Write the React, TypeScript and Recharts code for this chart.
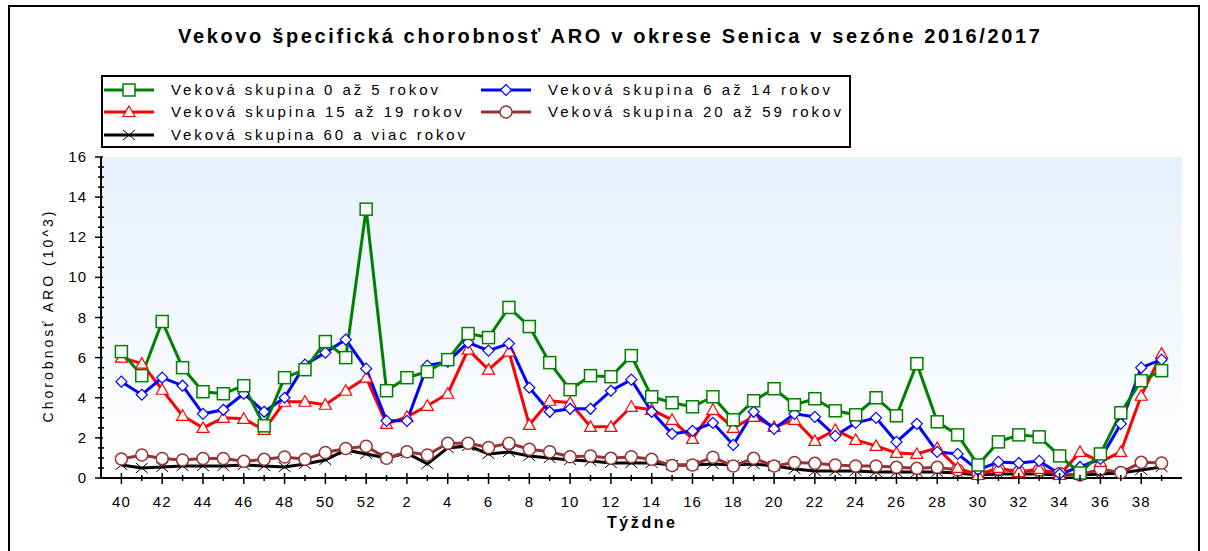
import React from 'react';
import { LineChart, Line, XAxis, YAxis, CartesianGrid } from 'recharts';

const weeks = ['40','41','42','43','44','45','46','47','48','49','50','51','52','1','2','3','4','5','6','7','8','9','10','11','12','13','14','15','16','17','18','19','20','21','22','23','24','25','26','27','28','29','30','31','32','33','34','35','36','37','38','39'];

const age0to5 = [6.3,5.1,7.8,5.5,4.3,4.2,4.6,2.6,5.0,5.4,6.8,6.0,13.4,4.35,5.0,5.3,5.9,7.2,7.0,8.5,7.55,5.75,4.4,5.1,5.05,6.1,4.05,3.75,3.55,4.05,2.9,3.85,4.45,3.65,3.95,3.35,3.15,4.0,3.1,5.7,2.8,2.15,0.65,1.8,2.15,2.05,1.1,0.25,1.2,3.25,4.85,5.35];
const age6to14 = [4.8,4.15,5.0,4.6,3.2,3.4,4.2,3.3,4.0,5.65,6.25,6.9,5.45,2.85,2.85,5.6,5.8,6.75,6.35,6.7,4.5,3.3,3.45,3.45,4.35,4.9,3.3,2.2,2.35,2.75,1.65,3.3,2.45,3.2,3.05,2.1,2.75,3.0,1.8,2.7,1.3,1.2,0.4,0.8,0.75,0.85,0.2,0.55,0.95,2.7,5.5,5.9];
const age15to19 = [6.0,5.7,4.4,3.1,2.5,3.0,2.95,2.4,3.8,3.8,3.65,4.35,5.0,2.7,3.05,3.6,4.2,6.4,5.4,6.3,2.65,3.85,3.75,2.55,2.55,3.55,3.4,2.9,1.95,3.4,2.5,3.05,2.55,2.9,1.85,2.4,1.9,1.6,1.25,1.2,1.5,0.5,0.15,0.5,0.3,0.45,0.15,1.3,0.8,1.3,4.1,6.2];
const age20to59 = [0.95,1.15,0.97,0.9,0.97,0.97,0.83,0.93,1.05,0.93,1.27,1.47,1.58,0.98,1.31,1.15,1.73,1.73,1.52,1.73,1.43,1.31,1.06,1.1,0.98,1.06,0.93,0.62,0.65,1.03,0.6,0.98,0.6,0.77,0.73,0.65,0.6,0.6,0.53,0.48,0.53,0.4,0.2,0.45,0.3,0.4,0.22,0.15,0.45,0.27,0.78,0.75];
const age60plus = [0.65,0.5,0.55,0.6,0.6,0.6,0.65,0.6,0.55,0.7,0.9,1.4,1.2,1.0,1.25,0.7,1.5,1.6,1.2,1.3,1.1,1.0,0.9,0.85,0.75,0.75,0.75,0.65,0.65,0.7,0.65,0.7,0.6,0.45,0.35,0.35,0.35,0.3,0.3,0.3,0.3,0.25,0.15,0.2,0.2,0.2,0.15,0.15,0.2,0.25,0.4,0.55];

const yAllTicks = Array.from({ length: 33 }, (_, i) => i * 0.5);

const titleText = 'Vekovo špecifická chorobnosť ARO v okrese Senica v sezóne 2016/2017';
const yTitle = 'Chorobnosť ARO (10^3)';
const xTitle = 'Týždne';

const legendNames = [
  'Veková skupina 0 až 5 rokov',
  'Veková skupina 6 až 14 rokov',
  'Veková skupina 15 až 19 rokov',
  'Veková skupina 20 až 59 rokov',
  'Veková skupina 60 a viac rokov',
];

const COLORS = {
  green: '#008000',
  blue: '#0000FF',
  red: '#FF0000',
  brown: '#993333',
  black: '#000000',
};

const FONT = '"Liberation Sans", Arial, sans-serif';

const data = weeks.map((w, i) => ({
  idx: i,
  week: w,
  a: age0to5[i],
  b: age6to14[i],
  c: age15to19[i],
  d: age20to59[i],
  e: age60plus[i],
}));

type ShapeProps = { cx: number; cy: number; color: string };

const SquareShape = ({ cx, cy, color }: ShapeProps) => (
  <rect x={cx - 6} y={cy - 6} width={12} height={12} fill="#fff" stroke={color} strokeWidth={1.5} />
);
const DiamondShape = ({ cx, cy, color }: ShapeProps) => (
  <polygon points={`${cx},${cy - 5.5} ${cx + 5.5},${cy} ${cx},${cy + 5.5} ${cx - 5.5},${cy}`} fill="#fff" stroke={color} strokeWidth={1.2} />
);
const TriangleShape = ({ cx, cy, color }: ShapeProps) => (
  <polygon points={`${cx},${cy - 6} ${cx + 6},${cy + 4.5} ${cx - 6},${cy + 4.5}`} fill="#fff" stroke={color} strokeWidth={1.2} />
);
const CircleShape = ({ cx, cy, color }: ShapeProps) => (
  <circle cx={cx} cy={cy} r={6} fill="#fff" stroke={color} strokeWidth={1.5} />
);
const CrossShape = ({ cx, cy, color }: ShapeProps) => (
  <g stroke={color} strokeWidth={1}>
    <line x1={cx - 6} y1={cy - 5} x2={cx + 6} y2={cy + 5} />
    <line x1={cx - 6} y1={cy + 5} x2={cx + 6} y2={cy - 5} />
  </g>
);

const makeDot = (Shape: any, color: string) => (props: any) => {
  const { cx, cy, index } = props;
  if (cx == null || cy == null) return <g key={`n-${index}`} />;
  return <Shape key={`dot-${index}`} cx={cx} cy={cy} color={color} />;
};

const XTickBottom = (props: any) => {
  const { x, y, payload } = props;
  const w = weeks[payload.value];
  if (w === undefined) return <g />;
  const major = Number(w) % 2 === 0;
  return (
    <g>
      <line x1={x} x2={x} y1={y - (major ? 5 : 3)} y2={y + (major ? 6 : 3)} stroke="#000" strokeWidth={1.5} />
      {major && (
        <text x={x} y={y + 29} textAnchor="middle" fontFamily={FONT} fontSize={15} fill="#000" letterSpacing={1}>
          {w}
        </text>
      )}
    </g>
  );
};

const XTickTop = (props: any) => {
  const { x, y, payload } = props;
  const w = weeks[payload.value];
  if (w === undefined) return <g />;
  const major = Number(w) % 2 === 0;
  return <line x1={x} x2={x} y1={y} y2={y + (major ? 7 : 4)} stroke="#000" strokeWidth={1.5} />;
};

const YTickLeft = (props: any) => {
  const { x, y, payload } = props;
  const v = payload.value;
  const major = v % 2 === 0;
  return (
    <g>
      <line x1={x - (major ? 6 : 3)} x2={x + (major ? 2 : 3)} y1={y} y2={y} stroke="#000" strokeWidth={1.5} />
      {major && (
        <text x={x - 14} y={y + 5} textAnchor="end" fontFamily={FONT} fontSize={15} fill="#000" letterSpacing={1}>
          {v}
        </text>
      )}
    </g>
  );
};

const YTickRight = (props: any) => {
  const { x, y, payload } = props;
  const major = payload.value % 2 === 0;
  return <line x1={x} x2={x - (major ? 7 : 3)} y1={y} y2={y} stroke="#000" strokeWidth={1.5} />;
};

const legendShapes = [
  { Shape: SquareShape, color: COLORS.green },
  { Shape: DiamondShape, color: COLORS.blue },
  { Shape: TriangleShape, color: COLORS.red },
  { Shape: CircleShape, color: COLORS.brown },
  { Shape: CrossShape, color: COLORS.black },
];
const legendPos = [
  { x: 104, y: 90, tw: 267 },
  { x: 481, y: 90, tw: 282 },
  { x: 104, y: 112, tw: 291 },
  { x: 481, y: 112, tw: 293 },
  { x: 104, y: 135, tw: 294 },
];

const Overlay = () => (
  <svg width={1208} height={551} style={{ position: 'absolute', left: 0, top: 0, pointerEvents: 'none' }}>
    <rect x={9} y={6} width={1190} height={560} fill="none" stroke="#000" strokeWidth={2} />
    <text x={609} y={43} textAnchor="middle" fontFamily={FONT} fontSize={20} fontWeight="bold" fill="#000" textLength={862} lengthAdjust="spacing">
      {titleText}
    </text>
    <rect x={102} y={76} width={748} height={71} fill="#fff" stroke="#000" strokeWidth={2} />
    {legendNames.map((name, i) => {
      const { Shape, color } = legendShapes[i];
      const p = legendPos[i];
      return (
        <g key={name}>
          <line x1={p.x} x2={p.x + 50} y1={p.y} y2={p.y} stroke={color} strokeWidth={3} />
          <Shape cx={p.x + 25} cy={p.y} color={color} />
          <text x={p.x + 67} y={p.y + 5} fontFamily={FONT} fontSize={15} fill="#000" textLength={p.tw} lengthAdjust="spacing">
            {name}
          </text>
        </g>
      );
    })}
    <text
      x={0}
      y={0}
      transform="translate(53,317) rotate(-90)"
      textAnchor="middle"
      fontFamily={FONT}
      fontSize={14}
      fill="#000"
      textLength={211}
      lengthAdjust="spacing"
    >
      {yTitle}
    </text>
    <text x={641} y={528} textAnchor="middle" fontFamily={FONT} fontSize={16} fontWeight="bold" fill="#000" textLength={68} lengthAdjust="spacing">
      {xTitle}
    </text>
  </svg>
);

export default function App() {
  return (
    <div style={{ position: 'absolute', left: 0, top: 0, width: 1208, height: 551, background: '#fff' }}>
      <LineChart width={1208} height={551} data={data} margin={{ top: 157, right: 26, bottom: 33, left: 41 }}>
        <defs>
          <linearGradient id="plotBg" x1="0" y1="0" x2="0" y2="1">
            <stop offset="0%" stopColor="#E6F0FB" />
            <stop offset="100%" stopColor="#FFFFFF" />
          </linearGradient>
        </defs>
        <CartesianGrid horizontal={false} vertical={false} fill="url(#plotBg)" stroke="none" />
        <XAxis
          xAxisId="bottom"
          type="number"
          dataKey="idx"
          domain={[-1, 52]}
          ticks={weeks.map((_, i) => i)}
          interval={0}
          tickLine={false}
          tickSize={0}
          tickMargin={0}
          height={40}
          axisLine={{ stroke: '#000', strokeWidth: 2 }}
          tick={<XTickBottom />}
        />
        <XAxis
          xAxisId="top"
          orientation="top"
          type="number"
          dataKey="idx"
          domain={[-1, 52]}
          ticks={weeks.map((_, i) => i)}
          interval={0}
          tickLine={false}
          tickSize={0}
          tickMargin={0}
          height={0}
          axisLine={{ stroke: '#000', strokeWidth: 2 }}
          tick={<XTickTop />}
        />
        <YAxis
          yAxisId="left"
          type="number"
          domain={[0, 16]}
          ticks={yAllTicks}
          interval={0}
          tickLine={false}
          tickSize={0}
          tickMargin={0}
          width={60}
          axisLine={{ stroke: '#000', strokeWidth: 2 }}
          tick={<YTickLeft />}
        />
        <YAxis
          yAxisId="right"
          orientation="right"
          type="number"
          domain={[0, 16]}
          ticks={yAllTicks}
          interval={0}
          tickLine={false}
          tickSize={0}
          tickMargin={0}
          width={0}
          axisLine={{ stroke: '#000', strokeWidth: 2 }}
          tick={<YTickRight />}
        />
        <Line xAxisId="bottom" yAxisId="left" dataKey="e" stroke={COLORS.black} strokeWidth={3} dot={makeDot(CrossShape, COLORS.black)} isAnimationActive={false} />
        <Line xAxisId="bottom" yAxisId="left" dataKey="d" stroke={COLORS.brown} strokeWidth={3} dot={makeDot(CircleShape, COLORS.brown)} isAnimationActive={false} />
        <Line xAxisId="bottom" yAxisId="left" dataKey="c" stroke={COLORS.red} strokeWidth={3} dot={makeDot(TriangleShape, COLORS.red)} isAnimationActive={false} />
        <Line xAxisId="bottom" yAxisId="left" dataKey="b" stroke={COLORS.blue} strokeWidth={3} dot={makeDot(DiamondShape, COLORS.blue)} isAnimationActive={false} />
        <Line xAxisId="bottom" yAxisId="left" dataKey="a" stroke={COLORS.green} strokeWidth={3} dot={makeDot(SquareShape, COLORS.green)} isAnimationActive={false} />
      </LineChart>
      <Overlay />
    </div>
  );
}
